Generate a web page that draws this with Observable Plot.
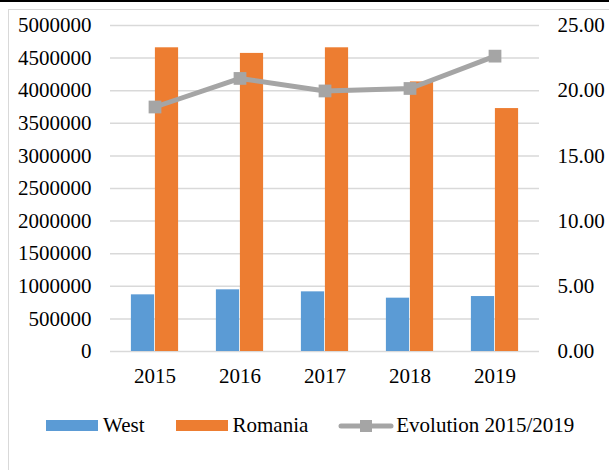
<!DOCTYPE html>
<html>
<head>
<meta charset="utf-8">
<script src="https://cdn.jsdelivr.net/npm/d3@7"></script>
<script src="https://cdn.jsdelivr.net/npm/@observablehq/plot@0.6"></script>
<style>
  html, body { margin: 0; padding: 0; background: #fff; width: 609px; height: 470px; overflow: hidden; font-family: "Liberation Serif", "Times New Roman", serif; }
  #topbar { position: absolute; left: 0; top: 0; width: 609px; height: 2px; background: #000; }
  #frame { position: absolute; left: 8px; top: 9px; width: 640px; height: 500px; border: 1.5px solid #d9d9d9; box-sizing: border-box; }
  #chart { position: absolute; left: 0; top: 0; }
  #chart svg, #chart svg text { font-family: "Liberation Serif", "Times New Roman", serif !important; font-size: 21px; }
  #legend { position: absolute; left: 46px; top: 413px; display: flex; align-items: center; font-size: 21px; color: #000; white-space: nowrap; }
  .sw { display: inline-block; width: 52px; height: 11px; }
  .item { display: flex; align-items: center; }
</style>
</head>
<body>
<div id="topbar"></div>
<div id="frame"></div>
<div id="chart"></div>
<div id="legend"></div>
<script>
const years = ["2015", "2016", "2017", "2018", "2019"];
const west = [869000, 946000, 915000, 818000, 843000];
const romania = [4658000, 4572000, 4658000, 4135000, 3726000];
const evolution = [18.75, 20.94, 19.98, 20.17, 22.65];
const leftTicks = [0, 500000, 1000000, 1500000, 2000000, 2500000, 3000000, 3500000, 4000000, 4500000, 5000000];
const rightTicks = [0, 5, 10, 15, 20, 25];
const seriesNames = ["West", "Romania", "Evolution 2015/2019"];
const colors = { West: "#5b9bd5", Romania: "#ed7d31", Evolution: "#a5a5a5" };

const ratio = 5000000 / 25; // right axis 25.00 aligns with left 5000000

const bars = [];
years.forEach((y, i) => {
  bars.push({ year: y, series: "West", value: west[i] });
  bars.push({ year: y, series: "Romania", value: romania[i] });
});
const line = years.map((y, i) => ({ year: y, value: evolution[i], scaled: evolution[i] * ratio }));

const width = 609, height = 400;
const mL = 110, mR = 70;
const band = (width - mL - mR) / years.length;
const barW = 24;
const edge = band / 2 - barW;
const serif = "'Liberation Serif', 'Times New Roman', serif";

const chart = Plot.plot({
  width, height,
  marginLeft: mL, marginRight: mR, marginTop: 25, marginBottom: 49,
  style: { fontFamily: serif, fontSize: "21px", color: "#000", background: "transparent" },
  x: { type: "band", domain: years, padding: 0, label: null },
  y: { domain: [0, 5000000], label: null },
  marks: [
    Plot.ruleY(leftTicks, { stroke: "#d9d9d9", strokeWidth: 1.5 }),
    Plot.barY(bars.filter(d => d.series === "West"), { x: "year", y: "value", fill: colors.West, insetLeft: edge, insetRight: band / 2 }),
    Plot.barY(bars.filter(d => d.series === "Romania"), { x: "year", y: "value", fill: colors.Romania, insetLeft: band / 2, insetRight: edge }),
    Plot.line(line, { x: "year", y: "scaled", stroke: colors.Evolution, strokeWidth: 5 }),
    Plot.dot(line, { x: "year", y: "scaled", symbol: "square", r: 7.2, fill: colors.Evolution, stroke: "none" }),
    Plot.axisY({ anchor: "left", ticks: leftTicks, tickSize: 0, tickPadding: 19, tickFormat: d => String(d), label: null, fontFamily: serif, fontSize: 21 }),
    Plot.axisY({ anchor: "right", ticks: rightTicks.map(v => v * ratio), tickSize: 0, tickPadding: 18, tickFormat: d => (d / ratio).toFixed(2), label: null, fontFamily: serif, fontSize: 21 }),
    Plot.axisX({ tickSize: 0, tickPadding: 17, label: null, fontFamily: serif, fontSize: 21 })
  ]
});
document.getElementById("chart").appendChild(chart);

// Legend
const legend = document.getElementById("legend");
legend.innerHTML = `
  <div class="item"><span class="sw" style="background:${colors.West}"></span><span style="margin-left:5px">${seriesNames[0]}</span></div>
  <div class="item" style="margin-left:32px"><span class="sw" style="background:${colors.Romania}"></span><span style="margin-left:4px">${seriesNames[1]}</span></div>
  <div class="item" style="margin-left:30px"><svg width="56" height="14" style="display:block"><line x1="3" y1="7" x2="53" y2="7" stroke="${colors.Evolution}" stroke-width="5" stroke-linecap="round"/><rect x="22" y="1" width="12" height="12" fill="${colors.Evolution}"/></svg><span style="margin-left:2px">${seriesNames[2]}</span></div>
`;
</script>
</body>
</html>
